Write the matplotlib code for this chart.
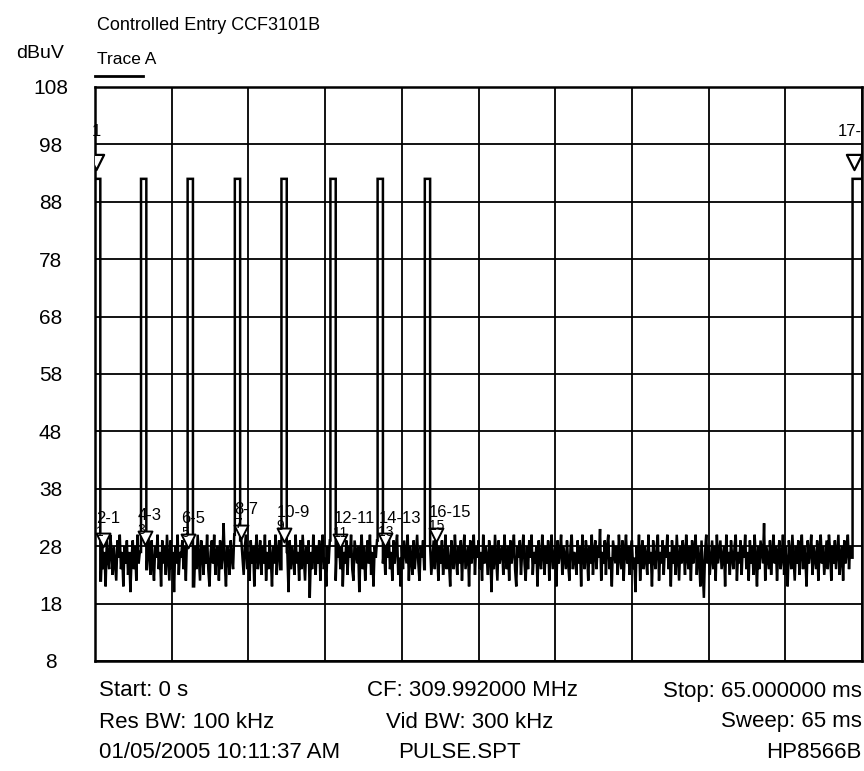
import matplotlib
matplotlib.use("Agg")
import matplotlib.pyplot as plt
import numpy as np
from matplotlib.lines import Line2D

plt.rcParams['font.family'] = ['Liberation Sans', 'DejaVu Sans']

# ---------------- data ----------------
title = "Controlled Entry CCF3101B"
trace_name = "Trace A"
y_unit = "dBuV"
y_ticks = [8, 18, 28, 38, 48, 58, 68, 78, 88, 98, 108]
x_start = 0.0      # ms
x_stop = 65.0      # ms
x_divs = 10
noise_step = 0.1   # ms between noise samples

noise_levels = [
    27, 23, 29, 25, 30, 22, 28, 24, 27, 21, 29, 26, 24, 30, 27, 23, 28, 25, 22, 29, 26, 30, 24, 27, 21,
    28, 25, 29, 23, 27, 20, 26, 29, 24, 28, 22, 30, 25, 27, 23, 29, 26, 21, 28, 24, 30, 27, 23, 29, 25,
    22, 28, 26, 30, 24, 27, 21, 29, 25, 28, 23, 30, 26, 22, 29, 24, 27, 20, 28, 25, 30, 23, 27, 26, 29,
    24, 28, 22, 30, 26, 23, 29, 25, 27, 21, 28, 24, 30, 26, 22, 29, 27, 23, 28, 25, 30, 24, 21, 27, 29,
    25, 30, 23, 27, 28, 22, 29, 24, 26, 32, 25, 21, 28, 27, 23, 29, 26, 24, 30, 22, 27, 28, 25, 20, 29,
    26, 23, 28, 30, 24, 27, 22, 29, 25, 28, 21, 27, 30, 24, 26, 29, 23, 28, 25, 30, 22, 27, 24, 29, 26,
    21, 28, 25, 30, 23, 27, 29, 24, 26, 22, 28, 30, 25, 27, 20, 29, 24, 28, 26, 23, 30, 25, 27, 22, 29,
    24, 30, 26, 22, 28, 25, 29, 19, 27, 24, 30, 26, 23, 28, 25, 29, 22, 27, 30, 24, 26, 21, 28, 25, 29,
    23, 27, 30, 25, 22, 29, 26, 28, 24, 30, 21, 27, 25, 29, 23, 28, 26, 30, 24, 22, 29, 27, 25, 28, 20,
    27, 30, 24, 28, 22, 26, 29, 25, 30, 23, 27, 21, 28, 26, 29, 24, 30, 22, 27, 25, 28, 23, 29, 26, 30,
    24, 27, 22, 29, 25, 28, 30, 23, 26, 21, 28, 24, 29, 27, 25, 30, 22, 28, 26, 23, 29, 24, 27, 30, 25,
    22, 28, 26, 29, 24, 27, 21, 31, 25, 28, 23, 26, 29, 24, 30, 27, 22, 28, 25, 29, 23, 26, 30, 24, 28,
    25, 21, 29, 27, 24, 30, 26, 23, 28, 25, 29, 22, 27, 30, 24, 26, 28, 21, 29, 25, 27, 30, 23, 28, 26,
    29, 24, 27, 22, 30, 25, 28, 26, 23, 29, 27, 20, 28, 24, 30, 26, 22, 29, 25, 27, 28, 23, 30, 26, 24,
    28, 22, 29, 25, 27, 30, 24, 21, 28, 26, 29, 23, 27, 30, 25, 22, 28, 24, 29, 26, 30, 23, 27, 25, 28,
    21, 29, 26, 24, 30, 27, 23, 28, 25, 29, 22, 27, 30, 24, 26, 28, 21, 29, 25, 27, 30, 23, 28, 26, 24,
    29, 25, 22, 28, 30, 24, 27, 26, 23, 29, 25, 28, 21, 30, 26, 24, 29, 27, 22, 28, 25, 30, 23, 27, 29,
    24, 28, 26, 31, 22, 27, 25, 29, 23, 28, 30, 24, 26, 21, 29, 27, 25, 28, 23, 30, 26, 24, 29, 22, 27,
    30, 25, 28, 23, 27, 29, 24, 26, 20, 28, 25, 30, 22, 27, 29, 24, 28, 26, 23, 30, 25, 27, 21, 29, 26,
    24, 28, 30, 22, 27, 25, 29, 23, 28, 26, 30, 24, 27, 21, 29, 25, 28, 23, 30, 26, 22, 28, 25, 29, 27,
    23, 30, 26, 24, 28, 22, 29, 25, 27, 30, 23, 28, 26, 21, 29, 24, 19, 27, 30, 25, 28, 23, 26, 29, 24,
    28, 22, 30, 25, 27, 29, 24, 26, 28, 21, 30, 25, 27, 23, 29, 26, 24, 28, 30, 22, 27, 25, 29, 23, 28,
    26, 30, 24, 27, 22, 29, 25, 28, 23, 30, 26, 21, 28, 24, 29, 27, 25, 32, 22, 28, 26, 24, 29, 23, 27,
    30, 25, 28, 22, 27, 29, 24, 26, 30, 23, 28, 25, 21, 29, 27, 24, 30, 26, 22, 28, 25, 29, 23, 27, 30,
    24, 28, 26, 21, 29, 25, 27, 30, 23, 28, 26, 24, 29, 22, 27, 30, 25, 28, 23, 26, 29, 24, 30, 27, 22,
    28, 25, 29, 24, 27, 30, 23, 26, 28, 22, 29, 25, 27, 30, 24, 28, 26, 21, 29, 25, 27, 23, 28, 26, 28,
    27,
]

pulse_starts = [0.0, 3.9, 7.85, 11.85, 15.8, 19.95, 23.95, 27.95, 64.2]
pulse_ends = [0.45, 4.35, 8.3, 12.3, 16.25, 20.4, 24.4, 28.4, 65.0]
pulse_level = 92.0

# markers at pulse tops
top_marker_t = [0.05, 64.3]
top_marker_level = [95.0, 95.0]
top_marker_label = ["1", "17-"]

# markers on the noise floor after each pulse
floor_marker_t = [0.7, 4.2, 7.9, 12.4, 16.0, 20.8, 24.6, 28.9]
floor_marker_level = [29.0, 29.4, 28.9, 30.5, 30.0, 28.9, 29.0, 30.0]
floor_marker_label = ["2-1", "4-3", "6-5", "8-7", "10-9", "12-11", "14-13", "16-15"]
floor_marker_sub = ["1", "3", "5", "7", "9", "11", "13", "15"]

footer_left = ["Start: 0 s", "Res BW: 100 kHz", "01/05/2005 10:11:37 AM"]
footer_mid = ["CF: 309.992000 MHz", "Vid BW: 300 kHz", "PULSE.SPT"]
footer_right = ["Stop: 65.000000 ms", "Sweep: 65 ms", "HP8566B"]

# ---------------- build trace ----------------
t_noise = x_start + noise_step * np.arange(len(noise_levels))
noise = np.array(noise_levels, dtype=float)
inside = np.zeros(len(t_noise), dtype=bool)
for s, e in zip(pulse_starts, pulse_ends):
    inside |= (t_noise >= s) & (t_noise <= e)

pts = [(t, 0.0, v) for t, v, ins in zip(t_noise, noise, inside) if not ins]
for s, e in zip(pulse_starts, pulse_ends):
    i0 = np.searchsorted(t_noise, s) - 1
    i1 = np.searchsorted(t_noise, e, side='right')
    if s > x_start and i0 >= 0:
        pts.append((s, 0.1, noise[i0]))
    pts.append((s, 0.2, pulse_level))
    pts.append((e, 0.3, pulse_level))
    if e < x_stop and i1 < len(t_noise):
        pts.append((e, 0.4, noise[i1]))
pts.sort(key=lambda p: (p[0], p[1]))
trace_t = [p[0] for p in pts]
trace_v = [p[2] for p in pts]

# ---------------- figure ----------------
W, H = 864, 771
fig = plt.figure(figsize=(W / 100, H / 100), dpi=100)
ax_l, ax_r, ax_t, ax_b = 95, 862, 87, 661
ax = fig.add_axes([ax_l / W, 1 - ax_b / H, (ax_r - ax_l) / W, (ax_b - ax_t) / H])

ax.set_xlim(x_start, x_stop)
ax.set_ylim(y_ticks[0], y_ticks[-1])
ax.set_xticks(np.linspace(x_start, x_stop, x_divs + 1))
ax.set_xticklabels([])
ax.set_yticks(y_ticks)
ax.set_yticklabels([str(v) for v in y_ticks], fontsize=15)
for lab in ax.get_yticklabels():
    lab.set_horizontalalignment('center')
ax.tick_params(axis='both', length=0)
ax.tick_params(axis='y', pad=32)
ax.grid(True, color='black', linewidth=1.3)
ax.set_axisbelow(True)
for sp in ax.spines.values():
    sp.set_linewidth(1.8)
    sp.set_color('black')

ax.plot(trace_t, trace_v, color='black', linewidth=1.8, solid_joinstyle='miter', clip_on=True, zorder=3)

# markers
ax.scatter(top_marker_t, top_marker_level, marker='v', s=120, facecolors='white',
           edgecolors='black', linewidths=1.6, zorder=4)
for t, v, lab in zip(top_marker_t, top_marker_level, top_marker_label):
    ha = 'left' if t < (x_stop - x_start) / 2 else 'right'
    ax.annotate(lab, (t, v), xytext=(-3 if ha == 'left' else 6, 16), textcoords='offset points',
                ha=ha, va='bottom', fontsize=12)

ax.scatter(floor_marker_t, floor_marker_level, marker='v', s=100, facecolors='white',
           edgecolors='black', linewidths=1.4, zorder=4)
for t, v, lab, sub in zip(floor_marker_t, floor_marker_level, floor_marker_label, floor_marker_sub):
    ax.annotate(lab, (t, v), xytext=(-5, 16), textcoords='offset points',
                ha='left', va='center', fontsize=12, zorder=5)
    ax.annotate(sub, (t, v), xytext=(-5, 6), textcoords='offset points',
                ha='left', va='center', fontsize=10, zorder=5)

# header text
fig.text(97 / W, 1 - 25 / H, title, fontsize=13, ha='left', va='center')
fig.text(97 / W, 1 - 59 / H, trace_name, fontsize=12.5, ha='left', va='center')
fig.add_artist(Line2D([95 / W, 143 / W], [1 - 76 / H, 1 - 76 / H], color='black', linewidth=2))
fig.text(40 / W, 1 - 53 / H, y_unit, fontsize=14, ha='center', va='center')

# footer text
rows_y = [691, 722, 753]
mid_x = [367, 386, 398]
for i in range(3):
    fig.text(99 / W, 1 - rows_y[i] / H, footer_left[i], fontsize=16, ha='left', va='center')
    fig.text(mid_x[i] / W, 1 - rows_y[i] / H, footer_mid[i], fontsize=16, ha='left', va='center')
    fig.text(862 / W, 1 - rows_y[i] / H, footer_right[i], fontsize=16, ha='right', va='center')

fig.savefig("out.png", dpi=100)
